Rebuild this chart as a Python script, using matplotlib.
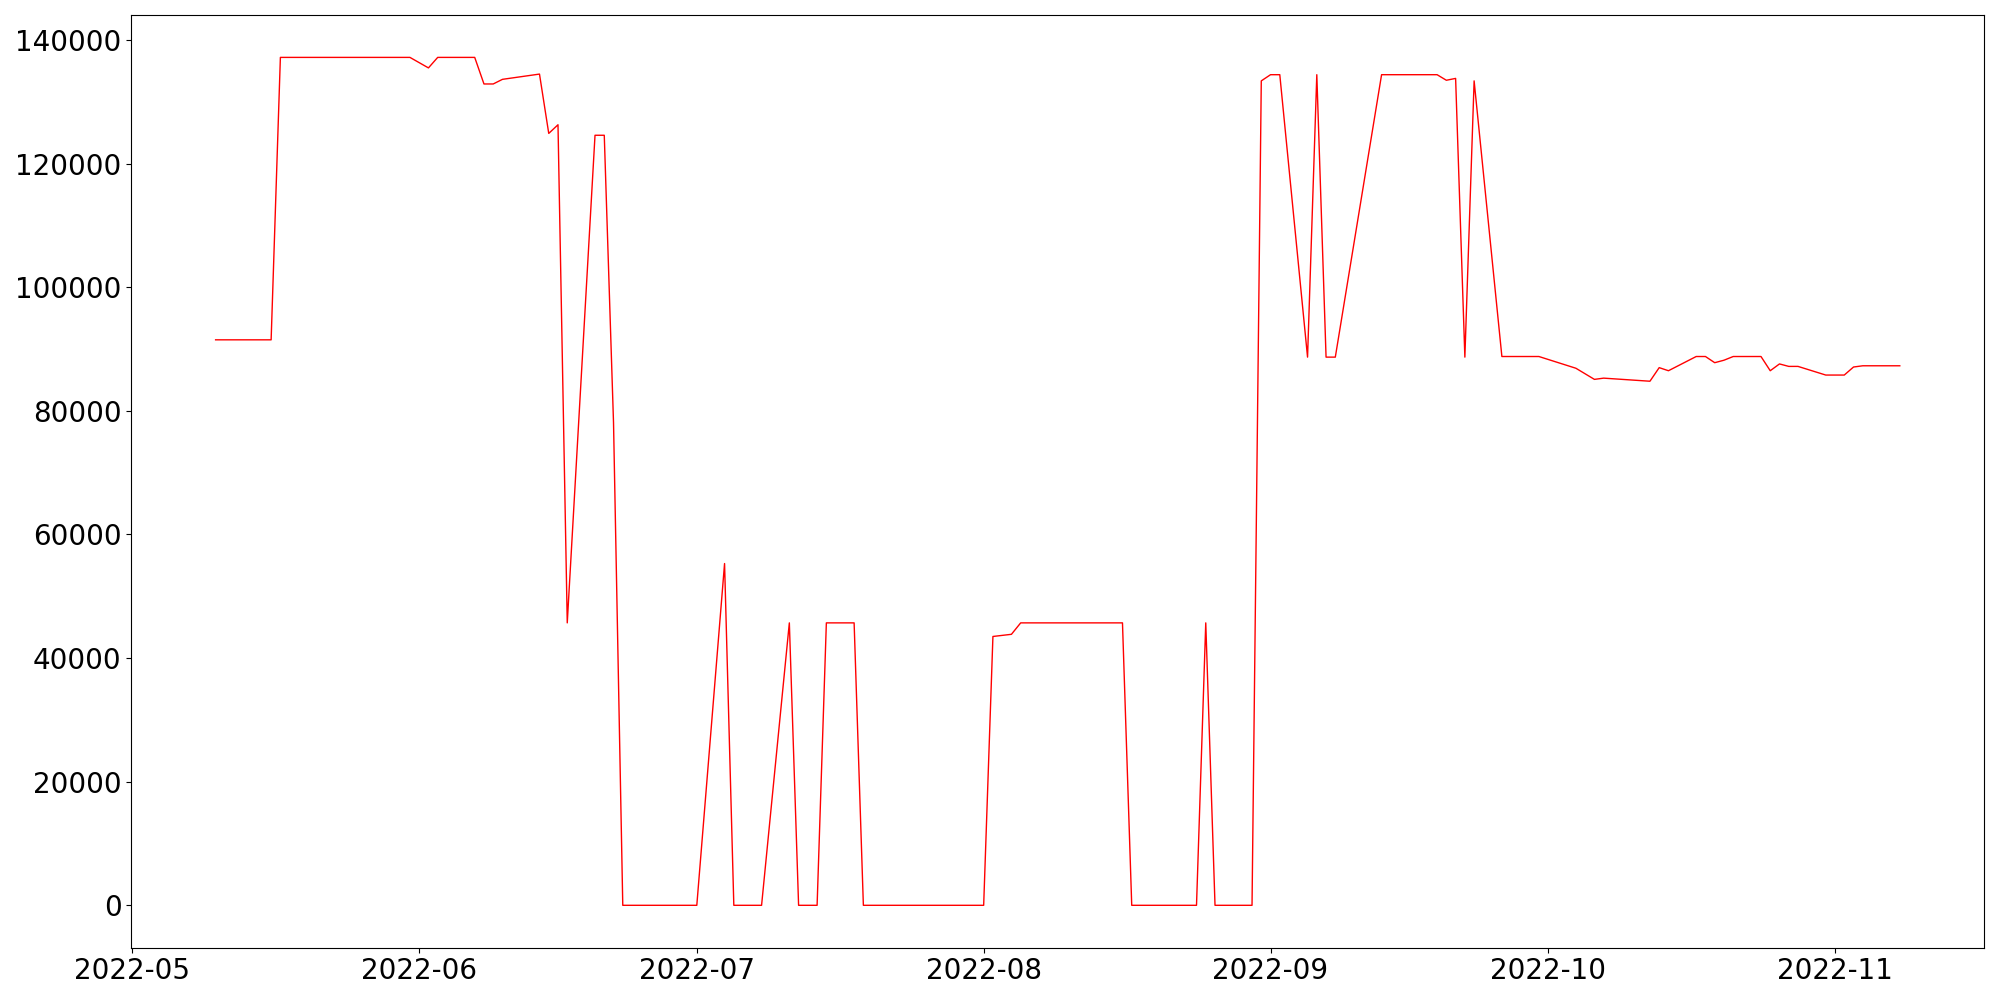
import numpy as np
import pandas as pd
import matplotlib
matplotlib.use("Agg")
import matplotlib.pyplot as plt

# daily readings, values
dates = [
    "2022-05-10", "2022-05-16", "2022-05-17", "2022-05-31", "2022-06-02", "2022-06-03",
    "2022-06-07", "2022-06-08", "2022-06-09", "2022-06-10", "2022-06-14", "2022-06-15",
    "2022-06-16", "2022-06-17", "2022-06-20", "2022-06-21", "2022-06-22", "2022-06-23",
    "2022-07-01", "2022-07-04", "2022-07-05", "2022-07-08", "2022-07-11", "2022-07-12",
    "2022-07-14", "2022-07-15", "2022-07-18", "2022-07-19", "2022-08-01", "2022-08-02",
    "2022-08-04", "2022-08-05", "2022-08-16", "2022-08-17", "2022-08-24", "2022-08-25",
    "2022-08-26", "2022-08-30", "2022-08-31", "2022-09-01", "2022-09-02", "2022-09-05",
    "2022-09-06", "2022-09-07", "2022-09-08", "2022-09-13", "2022-09-19", "2022-09-20",
    "2022-09-21", "2022-09-22", "2022-09-23", "2022-09-26", "2022-09-30", "2022-10-04",
    "2022-10-06", "2022-10-07", "2022-10-12", "2022-10-13", "2022-10-14", "2022-10-17",
    "2022-10-18", "2022-10-19", "2022-10-20", "2022-10-21", "2022-10-24", "2022-10-25",
    "2022-10-26", "2022-10-27", "2022-10-28", "2022-10-31", "2022-11-02", "2022-11-03",
    "2022-11-04", "2022-11-08",
]
values = [
    91500, 91500, 137200, 137200, 135500, 137200,
    137200, 132900, 132900, 133650, 134500, 124900,
    126300, 45700, 124600, 124600, 78100, 0,
    0, 55300, 0, 0, 45700, 0,
    0, 45700, 45700, 0, 0, 43500,
    43850, 45700, 45700, 0, 0, 45700,
    0, 0, 133400, 134400, 134400, 88700,
    134400, 88700, 88700, 134400, 134400, 133500,
    133800, 88700, 133400, 88800, 88800, 86900,
    85100, 85300, 84800, 87000, 86500, 88800,
    88800, 87800, 88200, 88800, 88800, 86500,
    87600, 87200, 87200, 85800, 85800, 87100,
    87300, 87300,
]

x = pd.to_datetime(dates)

fig, ax = plt.subplots(figsize=(20, 10), dpi=100)
ax.plot(x, values, color="red", linewidth=1.0)
ax.tick_params(axis="both", labelsize=20)
fig.subplots_adjust(left=0.0657, right=0.992, top=0.985, bottom=0.0523)
fig.savefig("out.png")
